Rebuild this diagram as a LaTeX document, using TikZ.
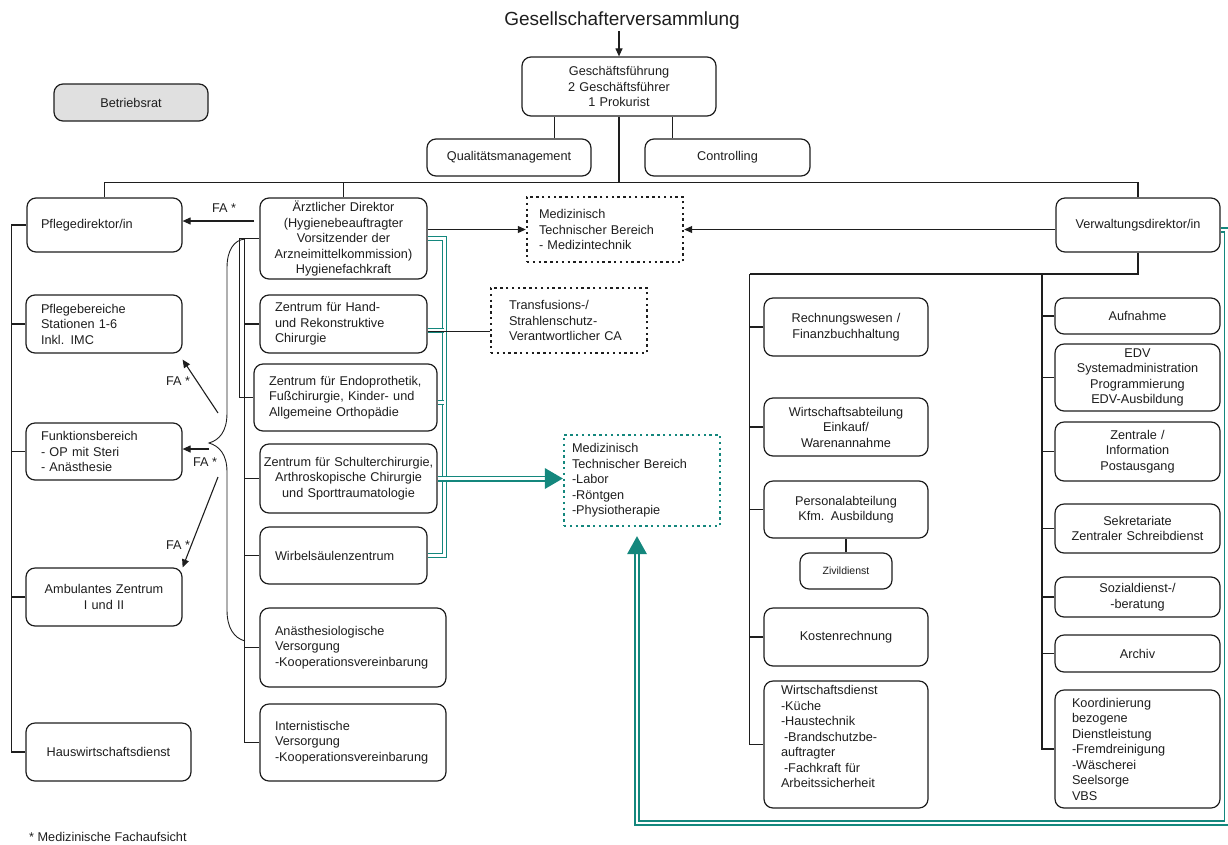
\documentclass[tikz,border=0pt]{standalone}
\usepackage{fontspec}
\setmainfont{Liberation Sans}
\usetikzlibrary{arrows.meta,calc}
\definecolor{tealc}{RGB}{20,135,125}
\definecolor{boxgray}{RGB}{224,224,224}
\definecolor{ink}{RGB}{30,30,30}
\newcommand\bxfont{\fontsize{12.7}{15.5}\selectfont}
\begin{document}
\begin{tikzpicture}[x=1pt,y=-1pt,
  box/.style={draw=ink, line width=1.2pt, rounded corners=9pt, inner ysep=0pt, font=\bxfont, text=ink, fill=white},
  dotb/.style={draw=ink, line width=2.4pt, dash pattern=on 2.4pt off 3.4pt, inner ysep=0pt, font=\bxfont, text=ink, align=left},
  dott/.style={dotb, draw=tealc},
  med/.style={draw=ink, line width=1.7pt},
  thk/.style={draw=ink, line width=2.6pt},
  thn/.style={draw=ink, line width=0.9pt},
  arr/.style={draw=ink, line width=1.1pt, -{Triangle[length=8pt,width=7pt]}},
  lbl/.style={font=\bxfont, text=ink, inner sep=1pt},
  tealm/.style={draw=tealc, line width=1pt, double=white, double distance=3pt},
  tealk/.style={draw=tealc, line width=1.7pt, double=white, double distance=2.6pt},
]
\useasboundingbox (0,0) rectangle (1228,844);

% top
\node[font=\fontsize{19}{22}\selectfont, text=ink, inner sep=1pt] (title) at (622,21) {Gesellschafterversammlung};
\node[box, align=center, text width=186pt, inner xsep=4pt, minimum height=59pt] (gf) at (619,86.5) {Geschäftsführung\\2 Geschäftsführer\\1 Prokurist};
\node[box, fill=boxgray, align=center, text width=146pt, inner xsep=4pt, minimum height=37pt] (betr) at (131,102.5) {Betriebsrat};
\node[box, align=center, text width=156pt, inner xsep=4pt, minimum height=37pt] (qm) at (509,157.5) {Qualitätsmanagement};
\node[box, align=center, text width=157pt, inner xsep=4pt, minimum height=37pt] (ctrl) at (727.5,157.5) {Controlling};

% level 2
\node[box, align=left, text width=127pt, inner xsep=14pt, minimum height=54pt] (pd) at (104.5,225) {Pflegedirektor/in};
\node[box, align=center, text width=159pt, inner xsep=4pt, minimum height=81pt] (ad) at (343.5,238.5) {Ärztlicher Direktor\\(Hygienebeauftragter\\Vorsitzender der\\Arzneimittelkommission)\\Hygienefachkraft};
\node[dotb, text width=132pt, inner xsep=12pt, minimum height=65pt] (mt1) at (605,229.5) {Medizinisch\\Technischer Bereich\\- Medizintechnik};
\node[box, align=center, text width=156pt, inner xsep=4pt, minimum height=54pt] (vd) at (1138,225) {Verwaltungsdirektor/in};

% nursing column
\node[box, align=left, text width=126pt, inner xsep=15pt, minimum height=58pt] (pb) at (104,324) {Pflegebereiche\\Stationen 1-6\\Inkl. IMC};
\node[box, align=left, text width=126pt, inner xsep=15pt, minimum height=57pt] (fb) at (104,451.5) {Funktionsbereich\\- OP mit Steri\\- Anästhesie};
\node[box, align=center, text width=148pt, inner xsep=4pt, minimum height=58pt] (amb) at (104,597) {Ambulantes Zentrum\\I und II};
\node[box, align=center, text width=157pt, inner xsep=4pt, minimum height=58pt] (hwd) at (108.5,752) {Hauswirtschaftsdienst};

% medical column
\node[box, align=left, text width=137pt, inner xsep=15pt, minimum height=58pt] (zh) at (343.5,324) {Zentrum für Hand-\\und Rekonstruktive\\Chirurgie};
\node[box, align=left, text width=153pt, inner xsep=15pt, minimum height=67pt] (ze) at (345.5,397.5) {Zentrum für Endoprothetik,\\Fußchirurgie, Kinder- und\\Allgemeine Orthopädie};
\node[box, align=center, text width=175pt, inner xsep=1pt, minimum height=69pt] (zs) at (348.5,478.5) {Zentrum für Schulterchirurgie,\\Arthroskopische Chirurgie\\und Sporttraumatologie};
\node[box, align=left, text width=137pt, inner xsep=15pt, minimum height=57pt] (wz) at (343.5,555.5) {Wirbelsäulenzentrum};
\node[box, align=left, text width=156pt, inner xsep=15pt, minimum height=79pt] (an) at (353,647.5) {Anästhesiologische\\Versorgung\\-Kooperationsvereinbarung};
\node[box, align=left, text width=156pt, inner xsep=15pt, minimum height=77pt] (in) at (353,742.5) {Internistische\\Versorgung\\-Kooperationsvereinbarung};

% dotted boxes
\node[dotb, text width=120pt, inner xsep=18pt, minimum height=65pt] (tf) at (569,320.5) {Transfusions-/\\Strahlenschutz-\\Verantwortlicher CA};
\node[dott, text width=140pt, inner xsep=8pt, minimum height=91pt] (mt2) at (642,480.5) {Medizinisch\\Technischer Bereich\\-Labor\\-Röntgen\\-Physiotherapie};

% admin left
\node[box, align=center, text width=156pt, inner xsep=4pt, minimum height=58pt] (rw) at (846,327) {Rechnungswesen /\\Finanzbuchhaltung};
\node[box, align=center, text width=156pt, inner xsep=4pt, minimum height=58pt] (wa) at (846,427) {Wirtschaftsabteilung\\Einkauf/\\Warenannahme};
\node[box, align=center, text width=156pt, inner xsep=4pt, minimum height=57pt] (pa) at (846,509.5) {Personalabteilung\\Kfm. Ausbildung};
\node[box, align=center, text width=84pt, inner xsep=4pt, minimum height=36pt, font=\fontsize{10.5}{13}\selectfont] (zd) at (846,571) {Zivildienst};
\node[box, align=center, text width=156pt, inner xsep=4pt, minimum height=58pt] (kr) at (846,637) {Kostenrechnung};
\node[box, align=left, text width=130pt, inner xsep=17pt, minimum height=127pt] (wd) at (846,744.5) {Wirtschaftsdienst\\-Küche\\-Haustechnik\\\hspace*{3pt}-Brandschutzbe-\\auftragter\\\hspace*{3pt}-Fachkraft für\\Arbeitssicherheit\\\mbox{}};

% admin right
\node[box, align=center, text width=157pt, inner xsep=4pt, minimum height=36pt] (au) at (1137.5,316) {Aufnahme};
\node[box, align=center, text width=157pt, inner xsep=4pt, minimum height=67pt] (edv) at (1137.5,377.5) {EDV\\Systemadministration\\Programmierung\\EDV-Ausbildung};
\node[box, align=center, text width=157pt, inner xsep=4pt, minimum height=59pt] (zi) at (1137.5,451.5) {Zentrale /\\Information\\Postausgang};
\node[box, align=center, text width=157pt, inner xsep=4pt, minimum height=49pt] (se) at (1137.5,528.5) {Sekretariate\\Zentraler Schreibdienst};
\node[box, align=center, text width=157pt, inner xsep=4pt, minimum height=40pt] (so) at (1137.5,597) {Sozialdienst-/\\-beratung};
\node[box, align=center, text width=157pt, inner xsep=4pt, minimum height=37pt] (ar) at (1137.5,653.5) {Archiv};
\node[box, align=left, text width=131pt, inner xsep=17pt, minimum height=118pt] (ko) at (1137.5,749) {Koordinierung\\bezogene\\Dienstleistung\\-Fremdreinigung\\-Wäscherei\\Seelsorge\\VBS};

% footnote
\node[anchor=west, font=\bxfont, text=ink, inner sep=0pt] (fn) at (29,837) {* Medizinische Fachaufsicht};

% --- connectors top
\draw[arr] (gf.north |- title.south) -- (gf.north);
\draw[thn] ([xshift=45.5pt]qm.north) -- ([xshift=45.5pt]qm.north |- gf.south);
\draw[thn] ([xshift=-55pt]ctrl.north) -- ([xshift=-55pt]ctrl.north |- gf.south);
\draw[med] (pd.north) -- ++(0,-15) coordinate (bar) -| (vd.north);
\draw[med] (ad.north) -- (ad.north |- bar);
\draw[thk] (gf.south) -- (gf.south |- bar);

% FA arrow to Pflegedirektor
\coordinate (fa0) at (254,221);
\draw[arr] (fa0) -- (fa0 -| pd.east);
\node[lbl] (fal0) at (224,208) {FA *};

% arrows to Medizintechnik
\draw[arr] (ad.east |- mt1.west) -- (mt1.west);
\draw[arr] (vd.west |- mt1.east) -- (mt1.east);

% nursing column
\draw[med] (pd.west) -- ++(-15,0) coordinate (nc) |- (hwd.west);
\foreach \n in {pb,fb,amb} \draw[med] (\n.west) -- (\n.west -| nc);

% FA arrows
\coordinate (f1) at (218,413);
\coordinate (f2) at (209,449);
\coordinate (f3) at (218,477);
\draw[arr] (f1) -- ([yshift=-6pt]pb.south east);
\draw[arr] (f2) -- (f2 -| fb.east);
\draw[arr] (f3) -- (amb.north east);
\node[lbl] (fal1) at (178,381) {FA *};
\node[lbl] (fal2) at (205,462) {FA *};
\node[lbl] (fal3) at (178,545) {FA *};

% brace
\draw[thn] (245,239) .. controls (234,240) and (227,250) .. (227,268) -- (227,413)
  .. controls (227,432) and (219,440) .. (209,443)
  .. controls (219,446) and (227,454) .. (227,472) -- (227,610)
  .. controls (227,628) and (234,638) .. (245,641);

% medical column lines
\draw[med] (ad.west) -- ++(-20,0) |- (ze.west);
\draw[med] (ad.west) ++(-15,0) coordinate (mc) |- (in.west);
\foreach \n in {zh,zs,wz,an} \draw[med] (\n.west) -- (\n.west -| mc);

% teal lines medical
\draw[tealm] (ad.east) -- ++(16.5,0) coordinate (tv) |- (wz.east);
\draw[tealm] ([yshift=-6pt]zh.east) -- ([yshift=-6pt]zh.east -| tv);
\draw[tealm] ([yshift=-5pt]ze.east) -- ([yshift=-5pt]ze.east -| tv);
\draw[tealk, shorten >=17pt] (zs.east) -- (zs.east -| mt2.west);
\fill[tealc] (zs.east -| mt2.west) -- ++(-18,-10.5) -- ++(0,21) -- cycle;

% transfusion link
\draw[thn] ([yshift=-7pt]zh.east) -- ([yshift=-7pt]zh.east -| tf.west);

% teal loop from Verwaltungsdirektor
\coordinate (lb) at (637,823);
\draw[tealk, shorten >=27pt] ([yshift=-5pt]vd.east) -- ++(6,0) |- (lb) -- (lb |- mt2.south);
\fill[tealc] ($(lb |- mt2.south)+(0,9)$) -- ++(-10,18) -- ++(20,0) -- cycle;

% admin
\coordinate (acl) at (749.5,274);
\coordinate (acr) at (1042,274);
\draw[thk] (vd.south) |- (acl);
\draw[med] (acl) |- (wd.west);
\draw[med] (acr) |- (ko.west);
\foreach \n in {rw,wa,pa,kr} \draw[med] (\n.west) -- (\n.west -| acl);
\foreach \n in {au,edv,zi,se,so,ar} \draw[med] (\n.west) -- (\n.west -| acr);
\draw[med] (pa.south) -- (zd.north);
\end{tikzpicture}
\end{document}
